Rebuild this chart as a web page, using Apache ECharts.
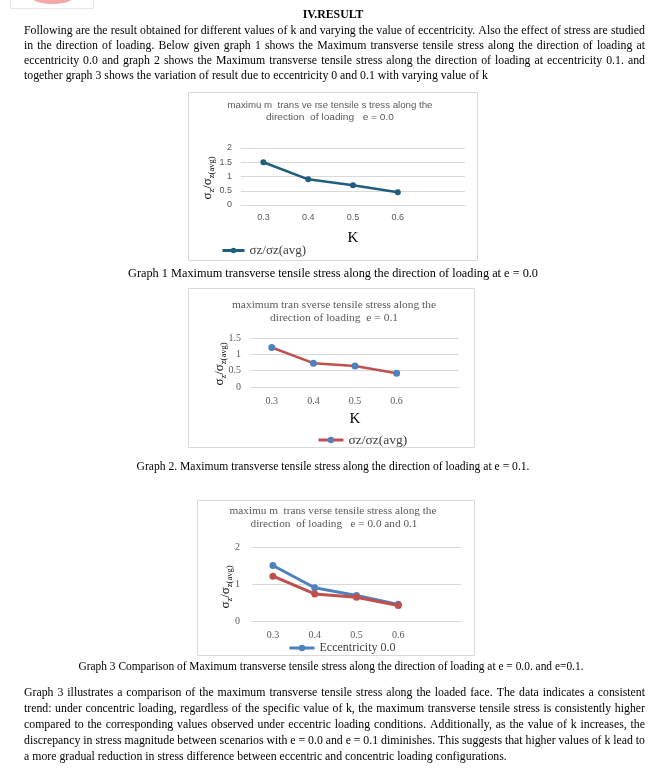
<!DOCTYPE html>
<html><head><meta charset="utf-8">
<script src="https://cdn.jsdelivr.net/npm/echarts@6/dist/echarts.min.js"></script>
<style>html,body{margin:0;padding:0;background:#fff}#c{width:664px;height:778px}</style>
</head><body><div id="c"></div>
<script>
// ---- data ----
const kCategories = ['0.3', '0.4', '0.5', '0.6', ''];
const stressE00 = [1.5, 0.9, 0.69, 0.45];
const stressE01 = [1.21, 0.73, 0.64, 0.42];
const yTicks1 = { max: 2, interval: 0.5 };
const yTicks2 = { max: 1.5, interval: 0.5 };
const yTicks3 = { max: 2, interval: 1 };
const seriesName1 = 'σz/σz(avg)';
const seriesName2 = 'σz/σz(avg) ';
const seriesNameE0 = 'Eccentricity 0.0';
const seriesNameE1 = 'Eccentricity 0.1';

// ---- texts ----
const heading = 'IV.RESULT';
const para1 = [
  'Following are the result obtained for different values of k and varying the value of eccentricity. Also the effect of stress are studied',
  'in the direction of loading. Below given graph 1 shows the Maximum transverse tensile stress along the direction of loading at',
  'eccentricity 0.0 and graph 2 shows the Maximum transverse tensile stress along the direction of loading at eccentricity 0.1. and',
  'together graph 3 shows the variation of result due to eccentricity 0 and 0.1 with varying value of k'
];
const para2 = [
  'Graph 3 illustrates a comparison of the maximum transverse tensile stress along the loaded face. The data indicates a consistent',
  'trend: under concentric loading, regardless of the specific value of k, the maximum transverse tensile stress is consistently higher',
  'compared to the corresponding values observed under eccentric loading conditions. Additionally, as the value of k increases, the',
  'discrepancy in stress magnitude between scenarios with e = 0.0 and e = 0.1 diminishes. This suggests that higher values of k lead to',
  'a more gradual reduction in stress difference between eccentric and concentric loading configurations.'
];
const caption1 = 'Graph 1 Maximum transverse tensile stress along the direction of loading at e = 0.0';
const caption2 = 'Graph 2. Maximum transverse tensile stress along the direction of loading at e = 0.1.';
const caption3 = 'Graph 3 Comparison of Maximum transverse tensile stress along the direction of loading at e = 0.0. and e=0.1.';
const title1 = ['maximu m  trans ve rse tensile s tress along the', 'direction  of loading   e = 0.0'];
const title2 = ['maximum tran sverse tensile stress along the', 'direction of loading  e = 0.1'];
const title3 = ['maximu m  trans verse tensile stress along the', 'direction  of loading   e = 0.0 and 0.1'];

// ---- helpers ----
const SERIF = '"Liberation Serif", "Times New Roman", serif';
const SANS = '"Liberation Sans", Arial, sans-serif';
const cv = document.createElement('canvas').getContext('2d');
function measure(t, font) { cv.font = font; return cv.measureText(t).width; }
const BODY = '13px ' + SERIF;
const graphics = [];
const L = 24, R = 645;
const s = (488 - L) / measure(para1[3], BODY);

function textEl(t, x, y, font, fill, align, sx) {
  return { type: 'text', x: x, y: y, scaleX: sx, silent: true,
    style: { text: t, font: font, fill: fill, align: align, verticalAlign: 'middle' } };
}
function justified(line, y) {
  const words = line.split(' ');
  const ws = words.map(w => measure(w, BODY) * s);
  const tot = ws.reduce((a, b) => a + b, 0);
  const gap = (R - L - tot) / (words.length - 1);
  let x = L;
  words.forEach((w, i) => { graphics.push(textEl(w, x, y, BODY, '#000', 'left', s)); x += ws[i] + gap; });
}
function plain(line, y) { graphics.push(textEl(line, L, y, BODY, '#000', 'left', s)); }
function fit(t, cx, y, width, font, fill) {
  graphics.push(textEl(t, cx, y, font, fill, 'center', width / measure(t, font)));
}

// logo fragment
graphics.push({ type: 'rect', shape: { x: 10.5, y: -2, width: 83, height: 10.5 }, style: { fill: 'none', stroke: '#e6e6e6', lineWidth: 1 }, silent: true });
graphics.push({ type: 'ellipse', shape: { cx: 52.5, cy: -2, rx: 20, ry: 6 }, style: { fill: '#f4a7a7' }, silent: true });

graphics.push(textEl(heading, 333, 15, 'bold 13px ' + SERIF, '#000', 'center', s));
[31, 46, 61].forEach((y, i) => justified(para1[i], y));
plain(para1[3], 76);
[693, 709, 725, 741].forEach((y, i) => justified(para2[i], y));
plain(para2[4], 757);

fit(caption1, 333, 274, 410, BODY, '#000');
fit(caption2, 333, 467, 393, BODY, '#000');
fit(caption3, 331, 667, 505, BODY, '#000');

// chart frames
[[188, 92, 289, 168], [188, 288, 286, 159], [197, 500, 277, 155]].forEach(r => {
  graphics.push({ type: 'rect', z: -10, shape: { x: r[0] + 0.5, y: r[1] + 0.5, width: r[2], height: r[3] }, style: { fill: 'none', stroke: '#d9d9d9', lineWidth: 1 }, silent: true });
});

// chart titles
const TF1 = '9.5px ' + SANS, TF2 = '10px ' + SERIF;
fit(title1[0], 330, 105, 205, TF1, '#595959');
fit(title1[1], 330, 117, 128, TF1, '#595959');
fit(title2[0], 334, 305, 204, TF2, '#595959');
fit(title2[1], 334, 318, 128, TF2, '#595959');
fit(title3[0], 333, 511, 207, TF2, '#595959');
fit(title3[1], 334, 524, 167, TF2, '#595959');

// K axis titles
graphics.push(textEl('K', 353, 238, '15px ' + SERIF, '#000', 'center', 1));
graphics.push(textEl('K', 355, 419, '15px ' + SERIF, '#000', 'center', 1));

// y axis names (rotated with subscripts)
function yName(x, y) {
  graphics.push({ type: 'text', x: x, y: y, rotation: Math.PI / 2, silent: true,
    style: { text: '{m|σ}{s|z}{m|/σ}{s|z(avg)}', align: 'center', verticalAlign: 'middle', fill: '#000',
      rich: { m: { font: '13px ' + SERIF, lineHeight: 16 }, s: { font: '8.5px ' + SERIF, lineHeight: 9, verticalAlign: 'bottom' } } } });
}
yName(208, 178);
yName(220, 364);
yName(226, 587);

// ---- chart ----
function yAxis(i, t, margin, font) {
  return { type: 'value', gridIndex: i, min: 0, max: t.max, interval: t.interval,
    axisLine: { show: false }, axisTick: { show: false },
    axisLabel: { margin: margin, fontSize: font[0], fontFamily: font[1], color: '#595959' },
    splitLine: { lineStyle: { color: '#d9d9d9', width: 1 } } };
}
function xAxis(i, margin, font) {
  return { type: 'category', gridIndex: i, data: kCategories, boundaryGap: true,
    axisLine: { show: true, lineStyle: { color: '#d9d9d9' } }, axisTick: { show: false },
    axisLabel: { margin: margin, fontSize: font[0], fontFamily: font[1], color: '#595959', interval: 0 } };
}
const option = {
  animation: false,
  graphic: { elements: graphics },
  grid: [
    { left: 241, top: 148, width: 224, height: 57 },
    { left: 251, top: 338, width: 208, height: 49 },
    { left: 252, top: 547, width: 209, height: 74 }
  ],
  xAxis: [xAxis(0, 8, [9, SANS]), xAxis(1, 9, [10, SERIF]), xAxis(2, 9, [10, SERIF])],
  yAxis: [yAxis(0, yTicks1, 9, [9, SANS]), yAxis(1, yTicks2, 10, [10, SERIF]), yAxis(2, yTicks3, 12, [10, SERIF])],
  legend: [
    { data: [seriesName1], left: 221, top: 244, padding: 0, itemWidth: 22, itemHeight: 7,
      lineStyle: { width: 3 },
      textStyle: { fontFamily: SERIF, fontSize: 13, color: '#404040' } },
    { data: [seriesName2], left: 317, top: 433, padding: 0, itemWidth: 25, itemHeight: 8,
      lineStyle: { width: 3 },
      textStyle: { fontFamily: SERIF, fontSize: 13.5, color: '#404040' } },
    { data: [seriesNameE0], left: 288, top: 642, padding: 0, itemWidth: 25, itemHeight: 8,
      lineStyle: { width: 3 },
      textStyle: { fontFamily: SERIF, fontSize: 12, color: '#404040' } }
  ],
  series: [
    { name: seriesName1, type: 'line', xAxisIndex: 0, yAxisIndex: 0, data: stressE00,
      symbol: 'circle', symbolSize: 6, itemStyle: { color: '#215d7c' }, lineStyle: { color: '#215d7c', width: 2.5 } },
    { name: seriesName2, type: 'line', xAxisIndex: 1, yAxisIndex: 1, data: stressE01,
      symbol: 'circle', symbolSize: 7, itemStyle: { color: '#4f81bd' }, lineStyle: { color: '#c0504d', width: 2.5 } },
    { name: seriesNameE0, type: 'line', xAxisIndex: 2, yAxisIndex: 2, data: stressE00,
      symbol: 'circle', symbolSize: 7, itemStyle: { color: '#4f81bd' }, lineStyle: { color: '#4f81bd', width: 3 } },
    { name: seriesNameE1, type: 'line', xAxisIndex: 2, yAxisIndex: 2, data: stressE01,
      symbol: 'circle', symbolSize: 7, itemStyle: { color: '#c0504d' }, lineStyle: { color: '#c0504d', width: 3 } }
  ]
};
const chart = echarts.init(document.getElementById('c'), null, { renderer: 'canvas' });
chart.setOption(option);
</script></body></html>
